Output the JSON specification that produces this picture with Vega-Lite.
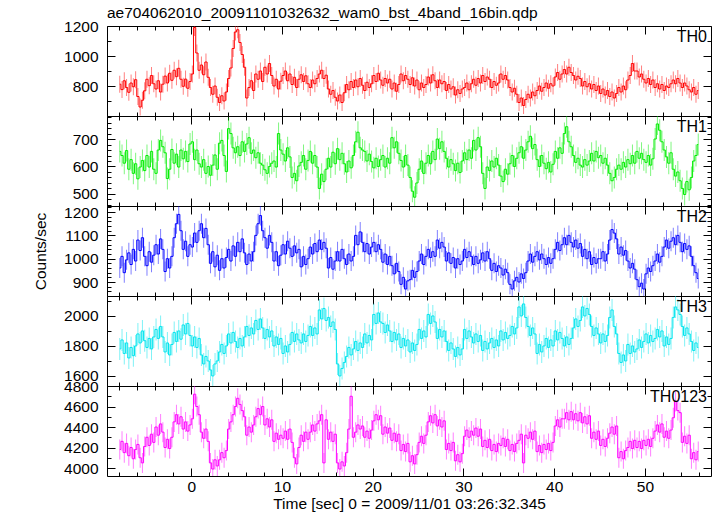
{
"$schema":"https://vega.github.io/schema/vega-lite/v6.json",
"padding":{"left":33,"right":5,"top":5,"bottom":3},
"background":"white",
"spacing":0,
"bounds":"flush",
"config":{"font":"Liberation Sans","view":{"stroke":"#000","strokeWidth":1},"axis":{"domain":false,"grid":false,"tickColor":"#000","tickWidth":1,"labelColor":"#000","labelFont":"Liberation Sans","labelFontSize":15.5,"titleFont":"Liberation Sans","titleFontSize":15.5,"titleFontWeight":"normal","titleColor":"#000","labelFlush":false,"labelOverlap":false}},
"datasets":{
"th0":[
{"t":-7.875,"v":812},{"t":-7.625,"v":776},{"t":-7.375,"v":835},{"t":-7.125,"v":790},
{"t":-6.875,"v":758},{"t":-6.625,"v":820},{"t":-6.375,"v":795},{"t":-6.125,"v":842},
{"t":-5.875,"v":730},{"t":-5.625,"v":660},{"t":-5.375,"v":705},{"t":-5.125,"v":768},
{"t":-4.875,"v":845},{"t":-4.625,"v":802},{"t":-4.375,"v":870},{"t":-4.125,"v":815},
{"t":-3.875,"v":780},{"t":-3.625,"v":835},{"t":-3.375,"v":760},{"t":-3.125,"v":812},
{"t":-2.875,"v":866},{"t":-2.625,"v":820},{"t":-2.375,"v":885},{"t":-2.125,"v":838},
{"t":-1.875,"v":905},{"t":-1.625,"v":862},{"t":-1.375,"v":918},{"t":-1.125,"v":845},
{"t":-0.875,"v":798},{"t":-0.625,"v":846},{"t":-0.375,"v":785},{"t":-0.125,"v":830},
{"t":0.125,"v":880},{"t":0.375,"v":1190},{"t":0.625,"v":1020},{"t":0.875,"v":905},
{"t":1.125,"v":940},{"t":1.375,"v":875},{"t":1.625,"v":960},{"t":1.875,"v":858},
{"t":2.125,"v":790},{"t":2.375,"v":745},{"t":2.625,"v":800},{"t":2.875,"v":725},
{"t":3.125,"v":690},{"t":3.375,"v":735},{"t":3.625,"v":700},{"t":3.875,"v":760},
{"t":4.125,"v":850},{"t":4.375,"v":920},{"t":4.625,"v":1050},{"t":4.875,"v":1160},
{"t":5.125,"v":1175},{"t":5.375,"v":1090},{"t":5.625,"v":1010},{"t":5.875,"v":925},
{"t":6.125,"v":720},{"t":6.375,"v":790},{"t":6.625,"v":835},{"t":6.875,"v":770},
{"t":7.125,"v":880},{"t":7.375,"v":845},{"t":7.625,"v":900},{"t":7.875,"v":830},
{"t":8.125,"v":925},{"t":8.375,"v":880},{"t":8.625,"v":950},{"t":8.875,"v":870},
{"t":9.125,"v":800},{"t":9.375,"v":845},{"t":9.625,"v":780},{"t":9.875,"v":832},
{"t":10.125,"v":870},{"t":10.375,"v":900},{"t":10.625,"v":835},{"t":10.875,"v":880},
{"t":11.125,"v":810},{"t":11.375,"v":858},{"t":11.625,"v":790},{"t":11.875,"v":845},
{"t":12.125,"v":875},{"t":12.375,"v":830},{"t":12.625,"v":868},{"t":12.875,"v":815},
{"t":13.125,"v":790},{"t":13.375,"v":840},{"t":13.625,"v":815},{"t":13.875,"v":850},
{"t":14.125,"v":880},{"t":14.375,"v":905},{"t":14.625,"v":850},{"t":14.875,"v":872},
{"t":15.125,"v":780},{"t":15.375,"v":745},{"t":15.625,"v":770},{"t":15.875,"v":725},
{"t":16.125,"v":700},{"t":16.375,"v":740},{"t":16.625,"v":690},{"t":16.875,"v":755},
{"t":17.125,"v":810},{"t":17.375,"v":775},{"t":17.625,"v":830},{"t":17.875,"v":790},
{"t":18.125,"v":840},{"t":18.375,"v":795},{"t":18.625,"v":850},{"t":18.875,"v":805},
{"t":19.125,"v":770},{"t":19.375,"v":825},{"t":19.625,"v":790},{"t":19.875,"v":815},
{"t":20.125,"v":870},{"t":20.375,"v":830},{"t":20.625,"v":885},{"t":20.875,"v":840},
{"t":21.125,"v":805},{"t":21.375,"v":850},{"t":21.625,"v":820},{"t":21.875,"v":845},
{"t":22.125,"v":780},{"t":22.375,"v":820},{"t":22.625,"v":765},{"t":22.875,"v":810},
{"t":23.125,"v":880},{"t":23.375,"v":835},{"t":23.625,"v":870},{"t":23.875,"v":845},
{"t":24.125,"v":810},{"t":24.375,"v":855},{"t":24.625,"v":800},{"t":24.875,"v":840},
{"t":25.125,"v":775},{"t":25.375,"v":820},{"t":25.625,"v":790},{"t":25.875,"v":810},
{"t":26.125,"v":860},{"t":26.375,"v":820},{"t":26.625,"v":875},{"t":26.875,"v":835},
{"t":27.125,"v":790},{"t":27.375,"v":840},{"t":27.625,"v":815},{"t":27.875,"v":830},
{"t":28.125,"v":770},{"t":28.375,"v":810},{"t":28.625,"v":780},{"t":28.875,"v":795},
{"t":29.125,"v":740},{"t":29.375,"v":775},{"t":29.625,"v":750},{"t":29.875,"v":780},
{"t":30.125,"v":790},{"t":30.375,"v":820},{"t":30.625,"v":775},{"t":30.875,"v":815},
{"t":31.125,"v":845},{"t":31.375,"v":805},{"t":31.625,"v":850},{"t":31.875,"v":820},
{"t":32.125,"v":870},{"t":32.375,"v":830},{"t":32.625,"v":860},{"t":32.875,"v":845},
{"t":33.125,"v":790},{"t":33.375,"v":830},{"t":33.625,"v":805},{"t":33.875,"v":820},
{"t":34.125,"v":880},{"t":34.375,"v":845},{"t":34.625,"v":870},{"t":34.875,"v":840},
{"t":35.125,"v":790},{"t":35.375,"v":760},{"t":35.625,"v":785},{"t":35.875,"v":745},
{"t":36.125,"v":690},{"t":36.375,"v":720},{"t":36.625,"v":670},{"t":36.875,"v":710},
{"t":37.125,"v":745},{"t":37.375,"v":720},{"t":37.625,"v":760},{"t":37.875,"v":735},
{"t":38.125,"v":770},{"t":38.375,"v":800},{"t":38.625,"v":765},{"t":38.875,"v":790},
{"t":39.125,"v":820},{"t":39.375,"v":785},{"t":39.625,"v":815},{"t":39.875,"v":800},
{"t":40.125,"v":860},{"t":40.375,"v":890},{"t":40.625,"v":845},{"t":40.875,"v":880},
{"t":41.125,"v":910},{"t":41.375,"v":880},{"t":41.625,"v":925},{"t":41.875,"v":890},
{"t":42.125,"v":870},{"t":42.375,"v":840},{"t":42.625,"v":865},{"t":42.875,"v":850},
{"t":43.125,"v":800},{"t":43.375,"v":830},{"t":43.625,"v":795},{"t":43.875,"v":815},
{"t":44.125,"v":780},{"t":44.375,"v":810},{"t":44.625,"v":770},{"t":44.875,"v":800},
{"t":45.125,"v":750},{"t":45.375,"v":780},{"t":45.625,"v":740},{"t":45.875,"v":770},
{"t":46.125,"v":730},{"t":46.375,"v":760},{"t":46.625,"v":720},{"t":46.875,"v":750},
{"t":47.125,"v":790},{"t":47.375,"v":760},{"t":47.625,"v":800},{"t":47.875,"v":775},
{"t":48.125,"v":840},{"t":48.375,"v":870},{"t":48.625,"v":950},{"t":48.875,"v":900},
{"t":49.125,"v":900},{"t":49.375,"v":860},{"t":49.625,"v":880},{"t":49.875,"v":845},
{"t":50.125,"v":820},{"t":50.375,"v":850},{"t":50.625,"v":810},{"t":50.875,"v":840},
{"t":51.125,"v":790},{"t":51.375,"v":815},{"t":51.625,"v":780},{"t":51.875,"v":810},
{"t":52.125,"v":770},{"t":52.375,"v":800},{"t":52.625,"v":790},{"t":52.875,"v":815},
{"t":53.125,"v":840},{"t":53.375,"v":815},{"t":53.625,"v":850},{"t":53.875,"v":820},
{"t":54.125,"v":790},{"t":54.375,"v":820},{"t":54.625,"v":800},{"t":54.875,"v":775},
{"t":55.125,"v":760},{"t":55.375,"v":790},{"t":55.625,"v":745},{"t":55.875,"v":770}
],
"th1":[
{"t":-7.875,"v":655},{"t":-7.625,"v":640},{"t":-7.375,"v":612},{"t":-7.125,"v":658},
{"t":-6.875,"v":590},{"t":-6.625,"v":625},{"t":-6.375,"v":575},{"t":-6.125,"v":610},
{"t":-5.875,"v":555},{"t":-5.625,"v":598},{"t":-5.375,"v":622},{"t":-5.125,"v":585},
{"t":-4.875,"v":640},{"t":-4.625,"v":598},{"t":-4.375,"v":655},{"t":-4.125,"v":590},
{"t":-3.875,"v":575},{"t":-3.625,"v":660},{"t":-3.375,"v":695},{"t":-3.125,"v":672},
{"t":-2.875,"v":650},{"t":-2.625,"v":556},{"t":-2.375,"v":590},{"t":-2.125,"v":662},
{"t":-1.875,"v":612},{"t":-1.625,"v":645},{"t":-1.375,"v":598},{"t":-1.125,"v":660},
{"t":-0.875,"v":628},{"t":-0.625,"v":655},{"t":-0.375,"v":618},{"t":-0.125,"v":682},
{"t":0.125,"v":690},{"t":0.375,"v":625},{"t":0.625,"v":660},{"t":0.875,"v":610},
{"t":1.125,"v":598},{"t":1.375,"v":625},{"t":1.625,"v":575},{"t":1.875,"v":600},
{"t":2.125,"v":568},{"t":2.375,"v":605},{"t":2.625,"v":642},{"t":2.875,"v":590},
{"t":3.125,"v":685},{"t":3.375,"v":695},{"t":3.625,"v":640},{"t":3.875,"v":582},
{"t":4.125,"v":738},{"t":4.375,"v":720},{"t":4.625,"v":668},{"t":4.875,"v":650},
{"t":5.125,"v":672},{"t":5.375,"v":640},{"t":5.625,"v":690},{"t":5.875,"v":655},
{"t":6.125,"v":682},{"t":6.375,"v":705},{"t":6.625,"v":648},{"t":6.875,"v":660},
{"t":7.125,"v":632},{"t":7.375,"v":650},{"t":7.625,"v":612},{"t":7.875,"v":605},
{"t":8.125,"v":588},{"t":8.375,"v":575},{"t":8.625,"v":600},{"t":8.875,"v":612},
{"t":9.125,"v":620},{"t":9.375,"v":598},{"t":9.625,"v":720},{"t":9.875,"v":660},
{"t":10.125,"v":645},{"t":10.375,"v":620},{"t":10.625,"v":668},{"t":10.875,"v":635},
{"t":11.125,"v":560},{"t":11.375,"v":575},{"t":11.625,"v":548},{"t":11.875,"v":602},
{"t":12.125,"v":615},{"t":12.375,"v":640},{"t":12.625,"v":590},{"t":12.875,"v":622},
{"t":13.125,"v":655},{"t":13.375,"v":612},{"t":13.625,"v":640},{"t":13.875,"v":598},
{"t":14.125,"v":520},{"t":14.375,"v":572},{"t":14.625,"v":545},{"t":14.875,"v":590},
{"t":15.125,"v":630},{"t":15.375,"v":598},{"t":15.625,"v":652},{"t":15.875,"v":610},
{"t":16.125,"v":665},{"t":16.375,"v":625},{"t":16.625,"v":648},{"t":16.875,"v":610},
{"t":17.125,"v":580},{"t":17.375,"v":620},{"t":17.625,"v":595},{"t":17.875,"v":640},
{"t":18.125,"v":690},{"t":18.375,"v":725},{"t":18.625,"v":668},{"t":18.875,"v":660},
{"t":19.125,"v":655},{"t":19.375,"v":620},{"t":19.625,"v":645},{"t":19.875,"v":618},
{"t":20.125,"v":595},{"t":20.375,"v":630},{"t":20.625,"v":600},{"t":20.875,"v":625},
{"t":21.125,"v":640},{"t":21.375,"v":598},{"t":21.625,"v":630},{"t":21.875,"v":612},
{"t":22.125,"v":705},{"t":22.375,"v":668},{"t":22.625,"v":690},{"t":22.875,"v":648},
{"t":23.125,"v":622},{"t":23.375,"v":598},{"t":23.625,"v":640},{"t":23.875,"v":605},
{"t":24.125,"v":560},{"t":24.375,"v":510},{"t":24.625,"v":488},{"t":24.875,"v":540},
{"t":25.125,"v":590},{"t":25.375,"v":620},{"t":25.625,"v":575},{"t":25.875,"v":612},
{"t":26.125,"v":640},{"t":26.375,"v":610},{"t":26.625,"v":655},{"t":26.875,"v":625},
{"t":27.125,"v":700},{"t":27.375,"v":665},{"t":27.625,"v":690},{"t":27.875,"v":655},
{"t":28.125,"v":630},{"t":28.375,"v":598},{"t":28.625,"v":625},{"t":28.875,"v":610},
{"t":29.125,"v":585},{"t":29.375,"v":612},{"t":29.625,"v":578},{"t":29.875,"v":620},
{"t":30.125,"v":650},{"t":30.375,"v":625},{"t":30.625,"v":660},{"t":30.875,"v":630},
{"t":31.125,"v":695},{"t":31.375,"v":660},{"t":31.625,"v":705},{"t":31.875,"v":672},
{"t":32.125,"v":575},{"t":32.375,"v":520},{"t":32.625,"v":598},{"t":32.875,"v":585},
{"t":33.125,"v":620},{"t":33.375,"v":598},{"t":33.625,"v":630},{"t":33.875,"v":605},
{"t":34.125,"v":565},{"t":34.375,"v":545},{"t":34.625,"v":590},{"t":34.875,"v":572},
{"t":35.125,"v":610},{"t":35.375,"v":640},{"t":35.625,"v":600},{"t":35.875,"v":630},
{"t":36.125,"v":650},{"t":36.375,"v":672},{"t":36.625,"v":630},{"t":36.875,"v":660},
{"t":37.125,"v":690},{"t":37.375,"v":710},{"t":37.625,"v":665},{"t":37.875,"v":680},
{"t":38.125,"v":625},{"t":38.375,"v":600},{"t":38.625,"v":640},{"t":38.875,"v":612},
{"t":39.125,"v":592},{"t":39.375,"v":615},{"t":39.625,"v":580},{"t":39.875,"v":608},
{"t":40.125,"v":655},{"t":40.375,"v":630},{"t":40.625,"v":668},{"t":40.875,"v":648},
{"t":41.125,"v":720},{"t":41.375,"v":745},{"t":41.625,"v":690},{"t":41.875,"v":672},
{"t":42.125,"v":640},{"t":42.375,"v":615},{"t":42.625,"v":630},{"t":42.875,"v":605},
{"t":43.125,"v":598},{"t":43.375,"v":625},{"t":43.625,"v":605},{"t":43.875,"v":620},
{"t":44.125,"v":648},{"t":44.375,"v":620},{"t":44.625,"v":655},{"t":44.875,"v":632},
{"t":45.125,"v":640},{"t":45.375,"v":612},{"t":45.625,"v":630},{"t":45.875,"v":605},
{"t":46.125,"v":575},{"t":46.375,"v":548},{"t":46.625,"v":560},{"t":46.875,"v":590},
{"t":47.125,"v":605},{"t":47.375,"v":590},{"t":47.625,"v":615},{"t":47.875,"v":598},
{"t":48.125,"v":625},{"t":48.375,"v":610},{"t":48.625,"v":640},{"t":48.875,"v":612},
{"t":49.125,"v":655},{"t":49.375,"v":630},{"t":49.625,"v":648},{"t":49.875,"v":625},
{"t":50.125,"v":615},{"t":50.375,"v":640},{"t":50.625,"v":605},{"t":50.875,"v":628},
{"t":51.125,"v":700},{"t":51.375,"v":755},{"t":51.625,"v":732},{"t":51.875,"v":690},
{"t":52.125,"v":660},{"t":52.375,"v":635},{"t":52.625,"v":612},{"t":52.875,"v":650},
{"t":53.125,"v":590},{"t":53.375,"v":565},{"t":53.625,"v":580},{"t":53.875,"v":548},
{"t":54.125,"v":520},{"t":54.375,"v":498},{"t":54.625,"v":545},{"t":54.875,"v":515},
{"t":55.125,"v":560},{"t":55.375,"v":620},{"t":55.625,"v":640},{"t":55.875,"v":680}
],
"th2":[
{"t":-7.875,"v":960},{"t":-7.625,"v":1010},{"t":-7.375,"v":940},{"t":-7.125,"v":995},
{"t":-6.875,"v":1025},{"t":-6.625,"v":975},{"t":-6.375,"v":1040},{"t":-6.125,"v":990},
{"t":-5.875,"v":1080},{"t":-5.625,"v":1035},{"t":-5.375,"v":1090},{"t":-5.125,"v":1010},
{"t":-4.875,"v":970},{"t":-4.625,"v":1030},{"t":-4.375,"v":985},{"t":-4.125,"v":1015},
{"t":-3.875,"v":1060},{"t":-3.625,"v":1020},{"t":-3.375,"v":1085},{"t":-3.125,"v":1040},
{"t":-2.875,"v":945},{"t":-2.625,"v":1000},{"t":-2.375,"v":960},{"t":-2.125,"v":1010},
{"t":-1.875,"v":1090},{"t":-1.625,"v":1150},{"t":-1.375,"v":1190},{"t":-1.125,"v":1120},
{"t":-0.875,"v":1040},{"t":-0.625,"v":1075},{"t":-0.375,"v":1010},{"t":-0.125,"v":1060},
{"t":0.125,"v":1050},{"t":0.375,"v":1110},{"t":0.625,"v":1070},{"t":0.875,"v":1120},
{"t":1.125,"v":1150},{"t":1.375,"v":1090},{"t":1.625,"v":1130},{"t":1.875,"v":1060},
{"t":2.125,"v":980},{"t":2.375,"v":1030},{"t":2.625,"v":965},{"t":2.875,"v":1015},
{"t":3.125,"v":950},{"t":3.375,"v":1000},{"t":3.625,"v":960},{"t":3.875,"v":1005},
{"t":4.125,"v":1040},{"t":4.375,"v":990},{"t":4.625,"v":1055},{"t":4.875,"v":1010},
{"t":5.125,"v":1070},{"t":5.375,"v":1030},{"t":5.625,"v":1085},{"t":5.875,"v":1025},
{"t":6.125,"v":975},{"t":6.375,"v":1020},{"t":6.625,"v":990},{"t":6.875,"v":1030},
{"t":7.125,"v":1100},{"t":7.375,"v":1150},{"t":7.625,"v":1185},{"t":7.875,"v":1120},
{"t":8.125,"v":1090},{"t":8.375,"v":1045},{"t":8.625,"v":1100},{"t":8.875,"v":1070},
{"t":9.125,"v":990},{"t":9.375,"v":1030},{"t":9.625,"v":970},{"t":9.875,"v":1015},
{"t":10.125,"v":1060},{"t":10.375,"v":1020},{"t":10.625,"v":1075},{"t":10.875,"v":1045},
{"t":11.125,"v":1010},{"t":11.375,"v":1055},{"t":11.625,"v":1025},{"t":11.875,"v":1040},
{"t":12.125,"v":965},{"t":12.375,"v":1010},{"t":12.625,"v":975},{"t":12.875,"v":1000},
{"t":13.125,"v":1050},{"t":13.375,"v":1020},{"t":13.625,"v":1065},{"t":13.875,"v":1030},
{"t":14.125,"v":1080},{"t":14.375,"v":1040},{"t":14.625,"v":1070},{"t":14.875,"v":1045},
{"t":15.125,"v":960},{"t":15.375,"v":1005},{"t":15.625,"v":955},{"t":15.875,"v":990},
{"t":16.125,"v":1030},{"t":16.375,"v":990},{"t":16.625,"v":1040},{"t":16.875,"v":1000},
{"t":17.125,"v":975},{"t":17.375,"v":1020},{"t":17.625,"v":990},{"t":17.875,"v":1010},
{"t":18.125,"v":1100},{"t":18.375,"v":1060},{"t":18.625,"v":1115},{"t":18.875,"v":1070},
{"t":19.125,"v":1030},{"t":19.375,"v":1065},{"t":19.625,"v":1020},{"t":19.875,"v":1050},
{"t":20.125,"v":1070},{"t":20.375,"v":1030},{"t":20.625,"v":1060},{"t":20.875,"v":1040},
{"t":21.125,"v":985},{"t":21.375,"v":1020},{"t":21.625,"v":975},{"t":21.875,"v":1010},
{"t":22.125,"v":970},{"t":22.375,"v":935},{"t":22.625,"v":980},{"t":22.875,"v":945},
{"t":23.125,"v":890},{"t":23.375,"v":920},{"t":23.625,"v":870},{"t":23.875,"v":905},
{"t":24.125,"v":910},{"t":24.375,"v":950},{"t":24.625,"v":920},{"t":24.875,"v":945},
{"t":25.125,"v":990},{"t":25.375,"v":1020},{"t":25.625,"v":975},{"t":25.875,"v":1010},
{"t":26.125,"v":1040},{"t":26.375,"v":1005},{"t":26.625,"v":1030},{"t":26.875,"v":1010},
{"t":27.125,"v":1080},{"t":27.375,"v":1045},{"t":27.625,"v":1070},{"t":27.875,"v":1050},
{"t":28.125,"v":990},{"t":28.375,"v":1025},{"t":28.625,"v":980},{"t":28.875,"v":1005},
{"t":29.125,"v":960},{"t":29.375,"v":1000},{"t":29.625,"v":975},{"t":29.875,"v":990},
{"t":30.125,"v":1040},{"t":30.375,"v":1005},{"t":30.625,"v":1030},{"t":30.875,"v":1010},
{"t":31.125,"v":975},{"t":31.375,"v":1010},{"t":31.625,"v":980},{"t":31.875,"v":995},
{"t":32.125,"v":1025},{"t":32.375,"v":990},{"t":32.625,"v":1030},{"t":32.875,"v":1000},
{"t":33.125,"v":950},{"t":33.375,"v":980},{"t":33.625,"v":945},{"t":33.875,"v":970},
{"t":34.125,"v":960},{"t":34.375,"v":930},{"t":34.625,"v":955},{"t":34.875,"v":940},
{"t":35.125,"v":890},{"t":35.375,"v":870},{"t":35.625,"v":905},{"t":35.875,"v":920},
{"t":36.125,"v":900},{"t":36.375,"v":935},{"t":36.625,"v":915},{"t":36.875,"v":940},
{"t":37.125,"v":990},{"t":37.375,"v":1020},{"t":37.625,"v":985},{"t":37.875,"v":1010},
{"t":38.125,"v":1030},{"t":38.375,"v":995},{"t":38.625,"v":1020},{"t":38.875,"v":1000},
{"t":39.125,"v":975},{"t":39.375,"v":1005},{"t":39.625,"v":980},{"t":39.875,"v":1000},
{"t":40.125,"v":1040},{"t":40.375,"v":1070},{"t":40.625,"v":1035},{"t":40.875,"v":1060},
{"t":41.125,"v":1090},{"t":41.375,"v":1060},{"t":41.625,"v":1100},{"t":41.875,"v":1070},
{"t":42.125,"v":1050},{"t":42.375,"v":1080},{"t":42.625,"v":1045},{"t":42.875,"v":1065},
{"t":43.125,"v":1010},{"t":43.375,"v":1040},{"t":43.625,"v":1000},{"t":43.875,"v":1030},
{"t":44.125,"v":975},{"t":44.375,"v":1005},{"t":44.625,"v":980},{"t":44.875,"v":1000},
{"t":45.125,"v":1000},{"t":45.375,"v":1030},{"t":45.625,"v":990},{"t":45.875,"v":1020},
{"t":46.125,"v":1080},{"t":46.375,"v":1125},{"t":46.625,"v":1110},{"t":46.875,"v":1085},
{"t":47.125,"v":1020},{"t":47.375,"v":1050},{"t":47.625,"v":1015},{"t":47.875,"v":1035},
{"t":48.125,"v":990},{"t":48.375,"v":960},{"t":48.625,"v":980},{"t":48.875,"v":955},
{"t":49.125,"v":910},{"t":49.375,"v":880},{"t":49.625,"v":895},{"t":49.875,"v":870},
{"t":50.125,"v":935},{"t":50.375,"v":960},{"t":50.625,"v":945},{"t":50.875,"v":970},
{"t":51.125,"v":990},{"t":51.375,"v":1020},{"t":51.625,"v":985},{"t":51.875,"v":1010},
{"t":52.125,"v":1050},{"t":52.375,"v":1080},{"t":52.625,"v":1045},{"t":52.875,"v":1075},
{"t":53.125,"v":1090},{"t":53.375,"v":1060},{"t":53.625,"v":1100},{"t":53.875,"v":1070},
{"t":54.125,"v":1030},{"t":54.375,"v":1065},{"t":54.625,"v":1040},{"t":54.875,"v":1055},
{"t":55.125,"v":1010},{"t":55.375,"v":970},{"t":55.625,"v":940},{"t":55.875,"v":915}
],
"th3":[
{"t":-7.875,"v":1780},{"t":-7.625,"v":1840},{"t":-7.375,"v":1750},{"t":-7.125,"v":1820},
{"t":-6.875,"v":1720},{"t":-6.625,"v":1790},{"t":-6.375,"v":1735},{"t":-6.125,"v":1800},
{"t":-5.875,"v":1880},{"t":-5.625,"v":1820},{"t":-5.375,"v":1900},{"t":-5.125,"v":1835},
{"t":-4.875,"v":1790},{"t":-4.625,"v":1850},{"t":-4.375,"v":1780},{"t":-4.125,"v":1860},
{"t":-3.875,"v":1910},{"t":-3.625,"v":1850},{"t":-3.375,"v":1930},{"t":-3.125,"v":1860},
{"t":-2.875,"v":1760},{"t":-2.625,"v":1820},{"t":-2.375,"v":1740},{"t":-2.125,"v":1810},
{"t":-1.875,"v":1890},{"t":-1.625,"v":1830},{"t":-1.375,"v":1900},{"t":-1.125,"v":1845},
{"t":-0.875,"v":1940},{"t":-0.625,"v":1880},{"t":-0.375,"v":1950},{"t":-0.125,"v":1870},
{"t":0.125,"v":1800},{"t":0.375,"v":1860},{"t":0.625,"v":1790},{"t":0.875,"v":1850},
{"t":1.125,"v":1740},{"t":1.375,"v":1680},{"t":1.625,"v":1730},{"t":1.875,"v":1700},
{"t":2.125,"v":1640},{"t":2.375,"v":1600},{"t":2.625,"v":1680},{"t":2.875,"v":1700},
{"t":3.125,"v":1760},{"t":3.375,"v":1810},{"t":3.625,"v":1750},{"t":3.875,"v":1800},
{"t":4.125,"v":1880},{"t":4.375,"v":1820},{"t":4.625,"v":1890},{"t":4.875,"v":1830},
{"t":5.125,"v":1790},{"t":5.375,"v":1850},{"t":5.625,"v":1800},{"t":5.875,"v":1860},
{"t":6.125,"v":1930},{"t":6.375,"v":1870},{"t":6.625,"v":1920},{"t":6.875,"v":1880},
{"t":7.125,"v":1970},{"t":7.375,"v":1910},{"t":7.625,"v":1980},{"t":7.875,"v":1920},
{"t":8.125,"v":1850},{"t":8.375,"v":1910},{"t":8.625,"v":1860},{"t":8.875,"v":1900},
{"t":9.125,"v":1800},{"t":9.375,"v":1860},{"t":9.625,"v":1810},{"t":9.875,"v":1850},
{"t":10.125,"v":1750},{"t":10.375,"v":1800},{"t":10.625,"v":1760},{"t":10.875,"v":1810},
{"t":11.125,"v":1890},{"t":11.375,"v":1830},{"t":11.625,"v":1880},{"t":11.875,"v":1840},
{"t":12.125,"v":1820},{"t":12.375,"v":1880},{"t":12.625,"v":1830},{"t":12.875,"v":1870},
{"t":13.125,"v":1930},{"t":13.375,"v":1870},{"t":13.625,"v":1920},{"t":13.875,"v":1880},
{"t":14.125,"v":2040},{"t":14.375,"v":1980},{"t":14.625,"v":2050},{"t":14.875,"v":1970},
{"t":15.125,"v":1990},{"t":15.375,"v":1930},{"t":15.625,"v":1960},{"t":15.875,"v":1910},
{"t":16.125,"v":1680},{"t":16.375,"v":1600},{"t":16.625,"v":1650},{"t":16.875,"v":1690},
{"t":17.125,"v":1730},{"t":17.375,"v":1790},{"t":17.625,"v":1740},{"t":17.875,"v":1780},
{"t":18.125,"v":1830},{"t":18.375,"v":1770},{"t":18.625,"v":1820},{"t":18.875,"v":1790},
{"t":19.125,"v":1880},{"t":19.375,"v":1820},{"t":19.625,"v":1870},{"t":19.875,"v":1840},
{"t":20.125,"v":2010},{"t":20.375,"v":1950},{"t":20.625,"v":2020},{"t":20.875,"v":1960},
{"t":21.125,"v":1950},{"t":21.375,"v":1890},{"t":21.625,"v":1940},{"t":21.875,"v":1900},
{"t":22.125,"v":1830},{"t":22.375,"v":1890},{"t":22.625,"v":1840},{"t":22.875,"v":1880},
{"t":23.125,"v":1790},{"t":23.375,"v":1850},{"t":23.625,"v":1800},{"t":23.875,"v":1840},
{"t":24.125,"v":1760},{"t":24.375,"v":1820},{"t":24.625,"v":1770},{"t":24.875,"v":1810},
{"t":25.125,"v":1910},{"t":25.375,"v":1850},{"t":25.625,"v":1900},{"t":25.875,"v":1860},
{"t":26.125,"v":2010},{"t":26.375,"v":1950},{"t":26.625,"v":2000},{"t":26.875,"v":1960},
{"t":27.125,"v":1850},{"t":27.375,"v":1910},{"t":27.625,"v":1860},{"t":27.875,"v":1900},
{"t":28.125,"v":1830},{"t":28.375,"v":1770},{"t":28.625,"v":1820},{"t":28.875,"v":1780},
{"t":29.125,"v":1730},{"t":29.375,"v":1790},{"t":29.625,"v":1740},{"t":29.875,"v":1780},
{"t":30.125,"v":1910},{"t":30.375,"v":1850},{"t":30.625,"v":1900},{"t":30.875,"v":1860},
{"t":31.125,"v":1820},{"t":31.375,"v":1880},{"t":31.625,"v":1830},{"t":31.875,"v":1870},
{"t":32.125,"v":1770},{"t":32.375,"v":1830},{"t":32.625,"v":1780},{"t":32.875,"v":1820},
{"t":33.125,"v":1850},{"t":33.375,"v":1790},{"t":33.625,"v":1840},{"t":33.875,"v":1800},
{"t":34.125,"v":1900},{"t":34.375,"v":1840},{"t":34.625,"v":1890},{"t":34.875,"v":1850},
{"t":35.125,"v":1870},{"t":35.375,"v":1930},{"t":35.625,"v":1880},{"t":35.875,"v":1920},
{"t":36.125,"v":2060},{"t":36.375,"v":2000},{"t":36.625,"v":2080},{"t":36.875,"v":1990},
{"t":37.125,"v":1930},{"t":37.375,"v":1870},{"t":37.625,"v":1920},{"t":37.875,"v":1880},
{"t":38.125,"v":1750},{"t":38.375,"v":1810},{"t":38.625,"v":1760},{"t":38.875,"v":1800},
{"t":39.125,"v":1850},{"t":39.375,"v":1790},{"t":39.625,"v":1840},{"t":39.875,"v":1800},
{"t":40.125,"v":1900},{"t":40.375,"v":1840},{"t":40.625,"v":1890},{"t":40.875,"v":1850},
{"t":41.125,"v":1800},{"t":41.375,"v":1860},{"t":41.625,"v":1810},{"t":41.875,"v":1850},
{"t":42.125,"v":1920},{"t":42.375,"v":1980},{"t":42.625,"v":1930},{"t":42.875,"v":1970},
{"t":43.125,"v":2060},{"t":43.375,"v":2000},{"t":43.625,"v":2050},{"t":43.875,"v":2010},
{"t":44.125,"v":1930},{"t":44.375,"v":1870},{"t":44.625,"v":1920},{"t":44.875,"v":1880},
{"t":45.125,"v":1820},{"t":45.375,"v":1880},{"t":45.625,"v":1830},{"t":45.875,"v":1870},
{"t":46.125,"v":1990},{"t":46.375,"v":2040},{"t":46.625,"v":1930},{"t":46.875,"v":1880},
{"t":47.125,"v":1750},{"t":47.375,"v":1690},{"t":47.625,"v":1740},{"t":47.875,"v":1700},
{"t":48.125,"v":1810},{"t":48.375,"v":1750},{"t":48.625,"v":1800},{"t":48.875,"v":1760},
{"t":49.125,"v":1780},{"t":49.375,"v":1840},{"t":49.625,"v":1790},{"t":49.875,"v":1830},
{"t":50.125,"v":1880},{"t":50.375,"v":1820},{"t":50.625,"v":1870},{"t":50.875,"v":1830},
{"t":51.125,"v":1850},{"t":51.375,"v":1910},{"t":51.625,"v":1860},{"t":51.875,"v":1900},
{"t":52.125,"v":1800},{"t":52.375,"v":1860},{"t":52.625,"v":1810},{"t":52.875,"v":1850},
{"t":53.125,"v":1990},{"t":53.375,"v":2060},{"t":53.625,"v":2040},{"t":53.875,"v":2010},
{"t":54.125,"v":1930},{"t":54.375,"v":1870},{"t":54.625,"v":1920},{"t":54.875,"v":1880},
{"t":55.125,"v":1830},{"t":55.375,"v":1770},{"t":55.625,"v":1820},{"t":55.875,"v":1790}
],
"th4":[
{"t":-7.875,"v":4180},{"t":-7.625,"v":4260},{"t":-7.375,"v":4150},{"t":-7.125,"v":4240},
{"t":-6.875,"v":4120},{"t":-6.625,"v":4200},{"t":-6.375,"v":4090},{"t":-6.125,"v":4180},
{"t":-5.875,"v":4230},{"t":-5.625,"v":4100},{"t":-5.375,"v":4050},{"t":-5.125,"v":4210},
{"t":-4.875,"v":4300},{"t":-4.625,"v":4220},{"t":-4.375,"v":4330},{"t":-4.125,"v":4250},
{"t":-3.875,"v":4400},{"t":-3.625,"v":4320},{"t":-3.375,"v":4430},{"t":-3.125,"v":4350},
{"t":-2.875,"v":4200},{"t":-2.625,"v":4280},{"t":-2.375,"v":4190},{"t":-2.125,"v":4300},
{"t":-1.875,"v":4450},{"t":-1.625,"v":4520},{"t":-1.375,"v":4430},{"t":-1.125,"v":4500},
{"t":-0.875,"v":4380},{"t":-0.625,"v":4450},{"t":-0.375,"v":4360},{"t":-0.125,"v":4420},
{"t":0.125,"v":4480},{"t":0.375,"v":4720},{"t":0.625,"v":4600},{"t":0.875,"v":4520},
{"t":1.125,"v":4350},{"t":1.375,"v":4290},{"t":1.625,"v":4380},{"t":1.875,"v":4260},
{"t":2.125,"v":4050},{"t":2.375,"v":3990},{"t":2.625,"v":4080},{"t":2.875,"v":4020},
{"t":3.125,"v":4080},{"t":3.375,"v":4150},{"t":3.625,"v":4100},{"t":3.875,"v":4170},
{"t":4.125,"v":4380},{"t":4.375,"v":4450},{"t":4.625,"v":4520},{"t":4.875,"v":4600},
{"t":5.125,"v":4680},{"t":5.375,"v":4620},{"t":5.625,"v":4560},{"t":5.875,"v":4500},
{"t":6.125,"v":4320},{"t":6.375,"v":4400},{"t":6.625,"v":4350},{"t":6.875,"v":4420},
{"t":7.125,"v":4500},{"t":7.375,"v":4580},{"t":7.625,"v":4520},{"t":7.875,"v":4600},
{"t":8.125,"v":4420},{"t":8.375,"v":4480},{"t":8.625,"v":4400},{"t":8.875,"v":4470},
{"t":9.125,"v":4260},{"t":9.375,"v":4340},{"t":9.625,"v":4280},{"t":9.875,"v":4320},
{"t":10.125,"v":4290},{"t":10.375,"v":4360},{"t":10.625,"v":4280},{"t":10.875,"v":4380},
{"t":11.125,"v":4250},{"t":11.375,"v":4100},{"t":11.625,"v":4040},{"t":11.875,"v":4200},
{"t":12.125,"v":4320},{"t":12.375,"v":4260},{"t":12.625,"v":4350},{"t":12.875,"v":4280},
{"t":13.125,"v":4350},{"t":13.375,"v":4420},{"t":13.625,"v":4360},{"t":13.875,"v":4430},
{"t":14.125,"v":4460},{"t":14.375,"v":4520},{"t":14.625,"v":4050},{"t":14.875,"v":4470},
{"t":15.125,"v":4280},{"t":15.375,"v":4350},{"t":15.625,"v":4260},{"t":15.875,"v":4330},
{"t":16.125,"v":4050},{"t":16.375,"v":3990},{"t":16.625,"v":4060},{"t":16.875,"v":4020},
{"t":17.125,"v":4150},{"t":17.375,"v":4380},{"t":17.625,"v":4700},{"t":17.875,"v":4300},
{"t":18.125,"v":4350},{"t":18.375,"v":4420},{"t":18.625,"v":4380},{"t":18.875,"v":4410},
{"t":19.125,"v":4300},{"t":19.375,"v":4360},{"t":19.625,"v":4290},{"t":19.875,"v":4370},
{"t":20.125,"v":4460},{"t":20.375,"v":4520},{"t":20.625,"v":4470},{"t":20.875,"v":4510},
{"t":21.125,"v":4330},{"t":21.375,"v":4400},{"t":21.625,"v":4340},{"t":21.875,"v":4390},
{"t":22.125,"v":4270},{"t":22.375,"v":4340},{"t":22.625,"v":4260},{"t":22.875,"v":4330},
{"t":23.125,"v":4170},{"t":23.375,"v":4230},{"t":23.625,"v":4160},{"t":23.875,"v":4240},
{"t":24.125,"v":4060},{"t":24.375,"v":4120},{"t":24.625,"v":4040},{"t":24.875,"v":4130},
{"t":25.125,"v":4250},{"t":25.375,"v":4310},{"t":25.625,"v":4240},{"t":25.875,"v":4320},
{"t":26.125,"v":4450},{"t":26.375,"v":4510},{"t":26.625,"v":4440},{"t":26.875,"v":4520},
{"t":27.125,"v":4410},{"t":27.375,"v":4470},{"t":27.625,"v":4400},{"t":27.875,"v":4460},
{"t":28.125,"v":4180},{"t":28.375,"v":4240},{"t":28.625,"v":4170},{"t":28.875,"v":4250},
{"t":29.125,"v":4070},{"t":29.375,"v":4130},{"t":29.625,"v":4060},{"t":29.875,"v":4140},
{"t":30.125,"v":4310},{"t":30.375,"v":4370},{"t":30.625,"v":4300},{"t":30.875,"v":4360},
{"t":31.125,"v":4320},{"t":31.375,"v":4390},{"t":31.625,"v":4310},{"t":31.875,"v":4380},
{"t":32.125,"v":4210},{"t":32.375,"v":4270},{"t":32.625,"v":4200},{"t":32.875,"v":4280},
{"t":33.125,"v":4170},{"t":33.375,"v":4230},{"t":33.625,"v":4160},{"t":33.875,"v":4240},
{"t":34.125,"v":4220},{"t":34.375,"v":4290},{"t":34.625,"v":4210},{"t":34.875,"v":4280},
{"t":35.125,"v":4170},{"t":35.375,"v":4230},{"t":35.625,"v":4160},{"t":35.875,"v":4240},
{"t":36.125,"v":4270},{"t":36.375,"v":4330},{"t":36.625,"v":4050},{"t":36.875,"v":4320},
{"t":37.125,"v":4290},{"t":37.375,"v":4350},{"t":37.625,"v":4280},{"t":37.875,"v":4360},
{"t":38.125,"v":4160},{"t":38.375,"v":4220},{"t":38.625,"v":4150},{"t":38.875,"v":4230},
{"t":39.125,"v":4180},{"t":39.375,"v":4240},{"t":39.625,"v":4170},{"t":39.875,"v":4250},
{"t":40.125,"v":4410},{"t":40.375,"v":4470},{"t":40.625,"v":4400},{"t":40.875,"v":4480},
{"t":41.125,"v":4480},{"t":41.375,"v":4540},{"t":41.625,"v":4470},{"t":41.875,"v":4550},
{"t":42.125,"v":4470},{"t":42.375,"v":4530},{"t":42.625,"v":4460},{"t":42.875,"v":4540},
{"t":43.125,"v":4440},{"t":43.375,"v":4500},{"t":43.625,"v":4430},{"t":43.875,"v":4510},
{"t":44.125,"v":4290},{"t":44.375,"v":4350},{"t":44.625,"v":4280},{"t":44.875,"v":4360},
{"t":45.125,"v":4220},{"t":45.375,"v":4280},{"t":45.625,"v":4210},{"t":45.875,"v":4290},
{"t":46.125,"v":4340},{"t":46.375,"v":4400},{"t":46.625,"v":4330},{"t":46.875,"v":4410},
{"t":47.125,"v":4100},{"t":47.375,"v":4160},{"t":47.625,"v":4090},{"t":47.875,"v":4170},
{"t":48.125,"v":4200},{"t":48.375,"v":4260},{"t":48.625,"v":4190},{"t":48.875,"v":4270},
{"t":49.125,"v":4200},{"t":49.375,"v":4260},{"t":49.625,"v":4190},{"t":49.875,"v":4270},
{"t":50.125,"v":4220},{"t":50.375,"v":4280},{"t":50.625,"v":4210},{"t":50.875,"v":4290},
{"t":51.125,"v":4360},{"t":51.375,"v":4420},{"t":51.625,"v":4350},{"t":51.875,"v":4430},
{"t":52.125,"v":4300},{"t":52.375,"v":4360},{"t":52.625,"v":4290},{"t":52.875,"v":4370},
{"t":53.125,"v":4490},{"t":53.375,"v":4650},{"t":53.625,"v":4560},{"t":53.875,"v":4540},
{"t":54.125,"v":4250},{"t":54.375,"v":4310},{"t":54.625,"v":4240},{"t":54.875,"v":4320},
{"t":55.125,"v":4090},{"t":55.375,"v":4150},{"t":55.625,"v":4080},{"t":55.875,"v":4160}
]
},
"vconcat":[
{"title":{"text":"ae704062010_20091101032632_wam0_bst_4band_16bin.qdp","anchor":"start","frame":"group","fontSize":15.5,"fontWeight":"normal","font":"Liberation Sans","color":"#000","offset":-2},
"width":604,"height":90,
"layer":[
{"data":{"name":"th0"},"mark":{"type":"tick","orient":"vertical","size":17,"thickness":1,"color":"#ff0000","opacity":0.5,"clip":true},
"encoding":{"x":{"field":"t","type":"quantitative","scale":{"domain":[-9.28,57.28],"nice":false,"zero":false},"axis":{"orient":"bottom","values":[0,10,20,30,40,50],"tickSize":-8,"labels":false,"title":null}},
"y":{"field":"v","type":"quantitative","scale":{"domain":[600,1200],"nice":false,"zero":false},"axis":{"orient":"left","values":[800,1000,1200],"format":"d","tickSize":-8,"labelPadding":17,"title":null}}}},
{"data":{"name":"th0"},"mark":{"type":"line","interpolate":"step","color":"#ff0000","strokeWidth":1,"clip":true},
"encoding":{"x":{"field":"t","type":"quantitative","scale":{"domain":[-9.28,57.28],"nice":false,"zero":false},"axis":{"orient":"top","values":[0,10,20,30,40,50],"tickSize":-8,"labels":false,"title":null}},
"y":{"field":"v","type":"quantitative","scale":{"domain":[600,1200],"nice":false,"zero":false},"axis":{"orient":"right","values":[800,1000,1200],"tickSize":-8,"labels":false,"title":null}}}},
{"data":{"values":[{"k":"TH0"}]},"mark":{"type":"text","align":"right","baseline":"top","dx":-4,"dy":3,"fontSize":16,"color":"#000"},
"encoding":{"x":{"datum":57.28,"type":"quantitative","axis":{"orient":"bottom","values":[-8,-6,-4,-2,2,4,6,8,12,14,16,18,22,24,26,28,32,34,36,38,42,44,46,48,52,54,56],"tickSize":-4,"labels":false,"title":null}},
"y":{"datum":1200,"type":"quantitative","axis":{"orient":"left","values":[700,900,1100],"tickSize":-4,"labels":false,"title":null}},"text":{"field":"k"}}},
{"data":{"values":[{"k":""}]},"mark":{"type":"text"},
"encoding":{"x":{"datum":57.28,"type":"quantitative","axis":{"orient":"top","values":[-8,-6,-4,-2,2,4,6,8,12,14,16,18,22,24,26,28,32,34,36,38,42,44,46,48,52,54,56],"tickSize":-4,"labels":false,"title":null}},
"y":{"datum":1200,"type":"quantitative","axis":{"orient":"right","values":[700,900,1100],"tickSize":-4,"labels":false,"title":null}},"text":{"field":"k"}}}
],
"resolve":{"axis":{"x":"independent","y":"independent"}}},
{"width":604,"height":90,
"layer":[
{"data":{"name":"th1"},"mark":{"type":"tick","orient":"vertical","size":22,"thickness":1,"color":"#00ee00","opacity":0.5,"clip":true},
"encoding":{"x":{"field":"t","type":"quantitative","scale":{"domain":[-9.28,57.28],"nice":false,"zero":false},"axis":{"orient":"bottom","values":[0,10,20,30,40,50],"tickSize":-8,"labels":false,"title":null}},
"y":{"field":"v","type":"quantitative","scale":{"domain":[456,784],"nice":false,"zero":false},"axis":{"orient":"left","values":[500,600,700],"format":"d","tickSize":-8,"labelPadding":17,"title":null}}}},
{"data":{"name":"th1"},"mark":{"type":"line","interpolate":"step","color":"#00ee00","strokeWidth":1,"clip":true},
"encoding":{"x":{"field":"t","type":"quantitative","scale":{"domain":[-9.28,57.28],"nice":false,"zero":false},"axis":{"orient":"top","values":[0,10,20,30,40,50],"tickSize":-8,"labels":false,"title":null}},
"y":{"field":"v","type":"quantitative","scale":{"domain":[456,784],"nice":false,"zero":false},"axis":{"orient":"right","values":[500,600,700],"tickSize":-8,"labels":false,"title":null}}}},
{"data":{"values":[{"k":"TH1"}]},"mark":{"type":"text","align":"right","baseline":"top","dx":-4,"dy":3,"fontSize":16,"color":"#000"},
"encoding":{"x":{"datum":57.28,"type":"quantitative","axis":{"orient":"bottom","values":[-8,-6,-4,-2,2,4,6,8,12,14,16,18,22,24,26,28,32,34,36,38,42,44,46,48,52,54,56],"tickSize":-4,"labels":false,"title":null}},
"y":{"datum":784,"type":"quantitative","axis":{"orient":"left","values":[460,480,520,540,560,580,620,640,660,680,720,740,760,780],"tickSize":-4,"labels":false,"title":null}},"text":{"field":"k"}}},
{"data":{"values":[{"k":""}]},"mark":{"type":"text"},
"encoding":{"x":{"datum":57.28,"type":"quantitative","axis":{"orient":"top","values":[-8,-6,-4,-2,2,4,6,8,12,14,16,18,22,24,26,28,32,34,36,38,42,44,46,48,52,54,56],"tickSize":-4,"labels":false,"title":null}},
"y":{"datum":784,"type":"quantitative","axis":{"orient":"right","values":[460,480,520,540,560,580,620,640,660,680,720,740,760,780],"tickSize":-4,"labels":false,"title":null}},"text":{"field":"k"}}}
],
"resolve":{"axis":{"x":"independent","y":"independent"}}},
{"width":604,"height":90,
"layer":[
{"data":{"name":"th2"},"mark":{"type":"tick","orient":"vertical","size":20,"thickness":1,"color":"#0000ff","opacity":0.5,"clip":true},
"encoding":{"x":{"field":"t","type":"quantitative","scale":{"domain":[-9.28,57.28],"nice":false,"zero":false},"axis":{"orient":"bottom","values":[0,10,20,30,40,50],"tickSize":-8,"labels":false,"title":null}},
"y":{"field":"v","type":"quantitative","scale":{"domain":[840,1226],"nice":false,"zero":false},"axis":{"orient":"left","values":[900,1000,1100,1200],"format":"d","tickSize":-8,"labelPadding":17,"title":"Counts/sec","titlePadding":15}}}},
{"data":{"name":"th2"},"mark":{"type":"line","interpolate":"step","color":"#0000ff","strokeWidth":1,"clip":true},
"encoding":{"x":{"field":"t","type":"quantitative","scale":{"domain":[-9.28,57.28],"nice":false,"zero":false},"axis":{"orient":"top","values":[0,10,20,30,40,50],"tickSize":-8,"labels":false,"title":null}},
"y":{"field":"v","type":"quantitative","scale":{"domain":[840,1226],"nice":false,"zero":false},"axis":{"orient":"right","values":[900,1000,1100,1200],"tickSize":-8,"labels":false,"title":null}}}},
{"data":{"values":[{"k":"TH2"}]},"mark":{"type":"text","align":"right","baseline":"top","dx":-4,"dy":3,"fontSize":16,"color":"#000"},
"encoding":{"x":{"datum":57.28,"type":"quantitative","axis":{"orient":"bottom","values":[-8,-6,-4,-2,2,4,6,8,12,14,16,18,22,24,26,28,32,34,36,38,42,44,46,48,52,54,56],"tickSize":-4,"labels":false,"title":null}},
"y":{"datum":1226,"type":"quantitative","axis":{"orient":"left","values":[860,880,920,940,960,980,1020,1040,1060,1080,1120,1140,1160,1180,1220],"tickSize":-4,"labels":false,"title":null}},"text":{"field":"k"}}},
{"data":{"values":[{"k":""}]},"mark":{"type":"text"},
"encoding":{"x":{"datum":57.28,"type":"quantitative","axis":{"orient":"top","values":[-8,-6,-4,-2,2,4,6,8,12,14,16,18,22,24,26,28,32,34,36,38,42,44,46,48,52,54,56],"tickSize":-4,"labels":false,"title":null}},
"y":{"datum":1226,"type":"quantitative","axis":{"orient":"right","values":[860,880,920,940,960,980,1020,1040,1060,1080,1120,1140,1160,1180,1220],"tickSize":-4,"labels":false,"title":null}},"text":{"field":"k"}}}
],
"resolve":{"axis":{"x":"independent","y":"independent"}}},
{"width":604,"height":90,
"layer":[
{"data":{"name":"th3"},"mark":{"type":"tick","orient":"vertical","size":22,"thickness":1,"color":"#00e5ee","opacity":0.5,"clip":true},
"encoding":{"x":{"field":"t","type":"quantitative","scale":{"domain":[-9.28,57.28],"nice":false,"zero":false},"axis":{"orient":"bottom","values":[0,10,20,30,40,50],"tickSize":-8,"labels":false,"title":null}},
"y":{"field":"v","type":"quantitative","scale":{"domain":[1533,2133],"nice":false,"zero":false},"axis":{"orient":"left","values":[1600,1800,2000],"format":"d","tickSize":-8,"labelPadding":17,"title":null}}}},
{"data":{"name":"th3"},"mark":{"type":"line","interpolate":"step","color":"#00e5ee","strokeWidth":1,"clip":true},
"encoding":{"x":{"field":"t","type":"quantitative","scale":{"domain":[-9.28,57.28],"nice":false,"zero":false},"axis":{"orient":"top","values":[0,10,20,30,40,50],"tickSize":-8,"labels":false,"title":null}},
"y":{"field":"v","type":"quantitative","scale":{"domain":[1533,2133],"nice":false,"zero":false},"axis":{"orient":"right","values":[1600,1800,2000],"tickSize":-8,"labels":false,"title":null}}}},
{"data":{"values":[{"k":"TH3"}]},"mark":{"type":"text","align":"right","baseline":"top","dx":-4,"dy":3,"fontSize":16,"color":"#000"},
"encoding":{"x":{"datum":57.28,"type":"quantitative","axis":{"orient":"bottom","values":[-8,-6,-4,-2,2,4,6,8,12,14,16,18,22,24,26,28,32,34,36,38,42,44,46,48,52,54,56],"tickSize":-4,"labels":false,"title":null}},
"y":{"datum":2133,"type":"quantitative","axis":{"orient":"left","values":[1700,1900,2100],"tickSize":-4,"labels":false,"title":null}},"text":{"field":"k"}}},
{"data":{"values":[{"k":""}]},"mark":{"type":"text"},
"encoding":{"x":{"datum":57.28,"type":"quantitative","axis":{"orient":"top","values":[-8,-6,-4,-2,2,4,6,8,12,14,16,18,22,24,26,28,32,34,36,38,42,44,46,48,52,54,56],"tickSize":-4,"labels":false,"title":null}},
"y":{"datum":2133,"type":"quantitative","axis":{"orient":"right","values":[1700,1900,2100],"tickSize":-4,"labels":false,"title":null}},"text":{"field":"k"}}}
],
"resolve":{"axis":{"x":"independent","y":"independent"}}},
{"width":604,"height":90,
"layer":[
{"data":{"name":"th4"},"mark":{"type":"tick","orient":"vertical","size":20,"thickness":1,"color":"#ff00ff","opacity":0.5,"clip":true},
"encoding":{"x":{"field":"t","type":"quantitative","scale":{"domain":[-9.28,57.28],"nice":false,"zero":false},"axis":{"orient":"bottom","values":[0,10,20,30,40,50],"format":"d","tickSize":-8,"labelPadding":11,"title":"Time [sec] 0 = 2009/11/01 03:26:32.345","titlePadding":2}},
"y":{"field":"v","type":"quantitative","scale":{"domain":[3922,4800],"nice":false,"zero":false},"axis":{"orient":"left","values":[4000,4200,4400,4600,4800],"format":"d","tickSize":-8,"labelPadding":17,"title":null}}}},
{"data":{"name":"th4"},"mark":{"type":"line","interpolate":"step","color":"#ff00ff","strokeWidth":1,"clip":true},
"encoding":{"x":{"field":"t","type":"quantitative","scale":{"domain":[-9.28,57.28],"nice":false,"zero":false},"axis":{"orient":"top","values":[0,10,20,30,40,50],"tickSize":-8,"labels":false,"title":null}},
"y":{"field":"v","type":"quantitative","scale":{"domain":[3922,4800],"nice":false,"zero":false},"axis":{"orient":"right","values":[4000,4200,4400,4600,4800],"tickSize":-8,"labels":false,"title":null}}}},
{"data":{"values":[{"k":"TH0123"}]},"mark":{"type":"text","align":"right","baseline":"top","dx":-4,"dy":3,"fontSize":16,"color":"#000"},
"encoding":{"x":{"datum":57.28,"type":"quantitative","axis":{"orient":"bottom","values":[-8,-6,-4,-2,2,4,6,8,12,14,16,18,22,24,26,28,32,34,36,38,42,44,46,48,52,54,56],"tickSize":-4,"labels":false,"title":null}},
"y":{"datum":4800,"type":"quantitative","axis":{"orient":"left","values":[4100,4300,4500,4700],"tickSize":-4,"labels":false,"title":null}},"text":{"field":"k"}}},
{"data":{"values":[{"k":""}]},"mark":{"type":"text"},
"encoding":{"x":{"datum":57.28,"type":"quantitative","axis":{"orient":"top","values":[-8,-6,-4,-2,2,4,6,8,12,14,16,18,22,24,26,28,32,34,36,38,42,44,46,48,52,54,56],"tickSize":-4,"labels":false,"title":null}},
"y":{"datum":4800,"type":"quantitative","axis":{"orient":"right","values":[4100,4300,4500,4700],"tickSize":-4,"labels":false,"title":null}},"text":{"field":"k"}}}
],
"resolve":{"axis":{"x":"independent","y":"independent"}}}
]
}
